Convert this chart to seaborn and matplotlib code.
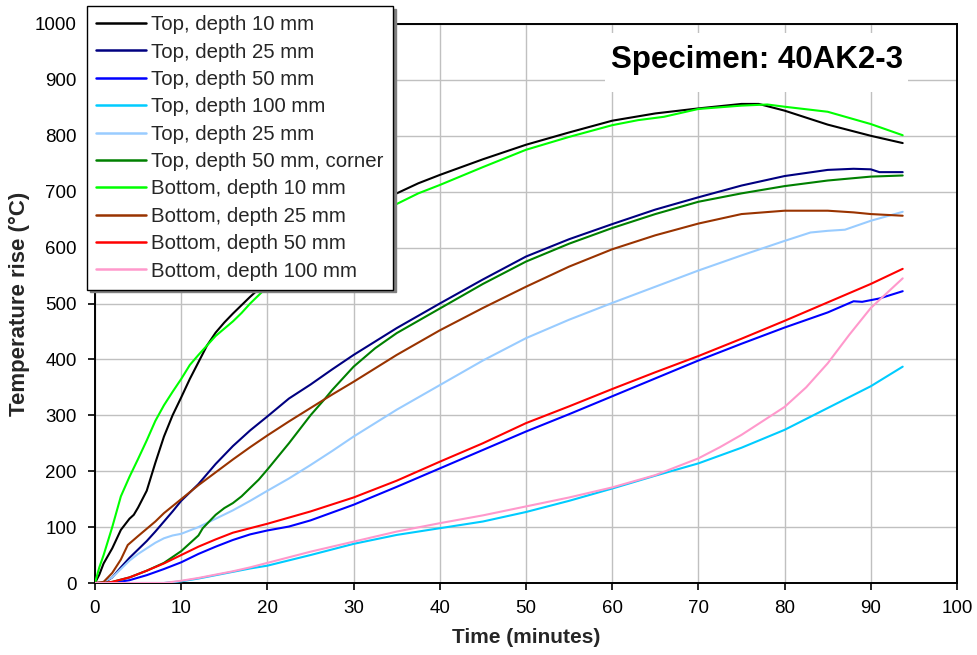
import matplotlib
matplotlib.use("Agg")
import matplotlib.pyplot as plt
import seaborn as sns
import pandas as pd
from matplotlib.patches import Rectangle

# ---------------- data ----------------
labels = [
    "Top, depth 10 mm", "Top, depth 25 mm", "Top, depth 50 mm", "Top, depth 100 mm",
    "Top, depth 25 mm", "Top, depth 50 mm, corner", "Bottom, depth 10 mm",
    "Bottom, depth 25 mm", "Bottom, depth 50 mm", "Bottom, depth 100 mm",
]
colors = ["#000000", "#000080", "#0000FF", "#00CCFF", "#99CCFF",
          "#008000", "#00FF00", "#993300", "#FF0000", "#FF99CC"]

top10_t = [0, 0.5, 1, 2, 3, 4, 4.5, 5, 6, 7, 8, 9, 10, 11, 12, 13, 14, 15, 16, 17, 18, 19, 20,
           22.5, 25, 27.5, 30, 32.5, 35, 37.5, 40, 45, 50, 55, 60, 65, 70, 75, 77, 80, 85, 90, 93.7]
top10_T = [0, 15, 35, 62, 95, 115, 122, 135, 165, 215, 262, 300, 332, 365, 395, 425, 448, 466, 482, 497, 512, 526, 540,
           575, 608, 640, 665, 683, 697, 715, 730, 758, 784, 806, 827, 840, 849, 857, 857, 845, 820, 800, 787]

top25_t = [0, 1, 2, 3, 4, 5, 6, 7, 8, 9, 10, 12, 14, 16, 18, 20, 22.5, 25, 27.5, 30, 35, 40, 45, 50,
           55, 60, 65, 70, 75, 80, 85, 88, 90, 91, 93.7]
top25_T = [0, 0, 10, 28, 45, 60, 75, 92, 110, 128, 147, 177, 213, 245, 273, 298, 330, 355, 382, 408, 456, 500, 543, 584,
           615, 642, 668, 690, 711, 728, 739, 741, 740, 735, 735]

top50_t = [0, 2, 4, 6, 8, 10, 12, 14, 16, 18, 20, 22.5, 25, 30, 35, 40, 45, 50, 55, 60, 65, 70, 75, 80,
           85, 88, 89, 91, 93.7]
top50_T = [0, 0, 5, 14, 25, 37, 52, 65, 77, 87, 94, 101, 112, 140, 172, 205, 238, 271, 302, 334, 366, 398, 428, 457,
           484, 504, 503, 509, 522]

top100_t = [0, 8, 10, 12, 14, 16, 18, 20, 25, 30, 35, 40, 45, 50, 55, 60, 65, 70, 75, 80, 85, 90, 93.7]
top100_T = [0, 0, 3, 8, 14, 20, 26, 31, 50, 70, 86, 98, 110, 127, 147, 169, 192, 214, 242, 274, 313, 352, 387]

top25b_t = [0, 1, 2, 3, 4, 5, 6, 7, 8, 9, 10, 12, 14, 16, 18, 20, 22.5, 25, 27.5, 30, 35, 40, 45, 50,
            55, 60, 65, 70, 75, 80, 83, 85, 87, 90, 93.7]
top25b_T = [0, 2, 10, 25, 40, 52, 62, 72, 80, 85, 88, 100, 115, 130, 147, 165, 187, 211, 236, 262, 310, 354, 398, 438,
            471, 501, 530, 559, 586, 612, 627, 630, 632, 648, 664]

corner_t = [0, 1, 2, 4, 6, 8, 10, 12, 12.5, 14, 15, 16, 17, 18, 19, 20, 22.5, 25, 26.7, 27.5, 30, 32.5, 35, 40, 45,
            50, 55, 60, 65, 70, 75, 80, 85, 90, 93.7]
corner_T = [0, 0, 2, 10, 22, 36, 57, 85, 98, 122, 134, 143, 155, 170, 185, 203, 250, 300, 330, 345, 387, 420, 447, 491, 535,
            575, 607, 635, 660, 682, 697, 710, 720, 727, 729]

bot10_t = [0, 0.5, 1, 2, 3, 4, 5, 6, 7, 8, 9, 10, 11, 12, 13, 14, 15, 16, 17, 18, 19, 20, 22.5, 25, 27.5,
           30, 32.5, 35, 37.5, 40, 45, 50, 55, 60, 63, 65, 66, 70, 75, 78, 80, 85, 90, 93.7]
bot10_T = [0, 28, 50, 100, 155, 190, 222, 255, 290, 318, 342, 365, 390, 408, 425, 442, 455, 468, 483, 500, 515, 530, 562, 590, 615,
           640, 660, 678, 697, 712, 744, 775, 798, 819, 828, 832, 834, 848, 854, 856, 852, 843, 821, 801]

bot25_t = [0, 1, 2, 3, 3.8, 5, 6, 7, 8, 10, 12, 14, 16, 18, 20, 22.5, 25, 27.5, 30, 35, 40, 45, 50, 55,
           60, 65, 70, 75, 80, 85, 88, 90, 93.7]
bot25_T = [0, 2, 18, 42, 68, 84, 97, 110, 125, 150, 175, 198, 221, 243, 264, 289, 313, 337, 360, 408, 452, 492, 530, 566,
           597, 622, 643, 660, 666, 666, 663, 660, 657]

bot50_t = [0, 1, 2, 4, 6, 8, 10, 12, 14, 16, 18, 20, 22.5, 25, 30, 35, 40, 45, 50, 55, 60, 65, 70, 75,
           80, 85, 90, 93.7]
bot50_T = [0, 0, 2, 10, 22, 35, 50, 65, 78, 90, 98, 106, 117, 128, 153, 183, 217, 250, 286, 316, 347, 377, 406, 437,
           469, 502, 535, 562]

bot100_t = [0, 8, 10, 12, 14, 16, 18, 20, 25, 30, 35, 40, 45, 50, 55, 60, 65, 70, 72.5, 75, 77.5, 80, 82.5,
            85, 87.5, 90, 93.7]
bot100_T = [0, 0, 4, 9, 15, 21, 28, 36, 56, 74, 92, 107, 121, 137, 153, 171, 193, 223, 243, 265, 290, 315, 350,
            393, 444, 492, 545]

series_t = [top10_t, top25_t, top50_t, top100_t, top25b_t, corner_t, bot10_t, bot25_t, bot50_t, bot100_t]
series_T = [top10_T, top25_T, top50_T, top100_T, top25b_T, corner_T, bot10_T, bot25_T, bot50_T, bot100_T]

x_ticks = list(range(0, 101, 10))
y_ticks = list(range(0, 1001, 100))

# ---------------- figure ----------------
sns.set_theme(style="white")
plt.rcParams["font.family"] = ["Liberation Sans", "DejaVu Sans"]

fig = plt.figure(figsize=(9.78, 6.55), dpi=100)
ax = fig.add_axes([95 / 978, 1 - 583 / 655, (957 - 95) / 978, (583 - 24) / 655])

for t, T, lab, col in zip(series_t, series_T, labels, colors):
    df = pd.DataFrame({"t": t, "T": T})
    sns.lineplot(data=df, x="t", y="T", ax=ax, color=col, label=lab,
                 linewidth=1.5, estimator=None, sort=False, zorder=3)

ax.set_xlim(0, 100)
ax.set_ylim(0, 1000)
ax.set_xticks(x_ticks)
ax.set_yticks(y_ticks)
ax.grid(True, color="#c0c0c0", linewidth=1.0, zorder=0)
ax.set_axisbelow(True)
for s in ax.spines.values():
    s.set_color("black")
    s.set_linewidth(1.4)
ax.tick_params(axis="both", which="major", direction="out", length=5, width=1.2,
               color="black", labelsize=13.5, labelcolor="black",
               bottom=True, left=True)
ax.tick_params(axis="x", pad=7)
ax.tick_params(axis="y", pad=8)

ax.set_xlabel("Time (minutes)", fontsize=15, fontweight="bold", labelpad=8)
ax.set_ylabel("Temperature rise (°C)", fontsize=16, fontweight="bold", labelpad=4)

# white box behind the specimen caption
ax.add_patch(Rectangle((0.592, 0.878), 0.351, 0.106, transform=ax.transAxes,
                       facecolor="white", edgecolor="none", zorder=1))
ax.text(0.768, 0.936, "Specimen: 40AK2-3", transform=ax.transAxes,
        ha="center", va="center", fontsize=22.5, fontweight="bold", color="black", zorder=4)

handles, labs = ax.get_legend_handles_labels()
leg = ax.legend(handles, labs, loc="upper left",
                bbox_to_anchor=(87 / 978, 1 - 6 / 655), bbox_transform=fig.transFigure,
                borderaxespad=0, fontsize=14.7, frameon=True, fancybox=False,
                shadow={"color": "#808080", "alpha": 1.0}, framealpha=1,
                edgecolor="black", handlelength=2.45, handletextpad=0.25,
                labelspacing=0.41, borderpad=0.45)
leg.get_frame().set_linewidth(1.0)
leg.set_zorder(10)
for h in leg.get_lines():
    h.set_linewidth(1.8)

fig.savefig("out.png", dpi=100)
